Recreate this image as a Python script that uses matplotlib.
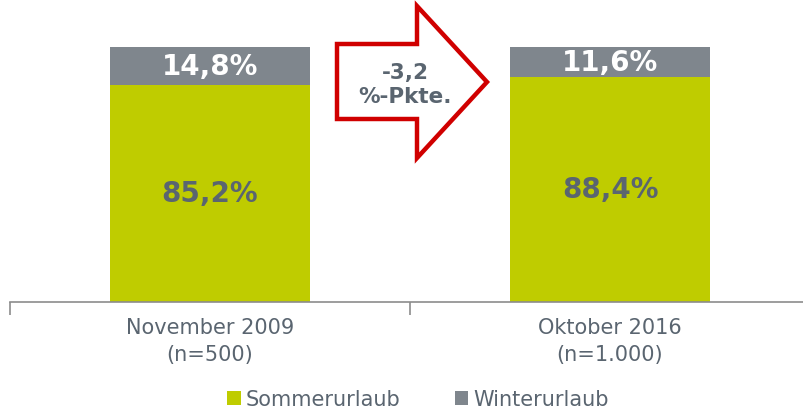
import numpy as np
import matplotlib.pyplot as plt
from matplotlib.patches import Polygon, Patch

categories = ['November 2009\n(n=500)', 'Oktober 2016\n(n=1.000)']
sommer = [85.2, 88.4]
winter = [14.8, 11.6]
series_names = ['Sommerurlaub', 'Winterurlaub']
change_label = '-3,2\n%-Pkte.'

green = '#BFCC00'
grey = '#7F868D'
text_grey = '#5A6570'

W, H = 804, 410
fig = plt.figure(figsize=(W / 100, H / 100), dpi=100)
# axes in pixel terms: x from 10 to 810, y baseline at 303, 100% at 48
ax = fig.add_axes([10 / W, (H - 303) / H, 800 / W, 255 / H])

x = np.arange(len(categories))
ax.bar(x, sommer, width=0.5, color=green)
ax.bar(x, winter, width=0.5, bottom=sommer, color=grey)

def fmt(v):
    return f'{v:.1f}%'.replace('.', ',')

for xi, s, w in zip(x, sommer, winter):
    ax.text(xi, s / 2, fmt(s), ha='center', va='center', fontsize=20,
            fontweight='bold', color=text_grey)
    ax.text(xi, s + w / 2, fmt(w), ha='center', va='center', fontsize=20,
            fontweight='bold', color='white')

ax.set_xlim(-0.5, 1.5)
ax.set_ylim(0, 100)
for side in ['top', 'right', 'left']:
    ax.spines[side].set_visible(False)
ax.spines['bottom'].set_color('#8C8C8C')
ax.spines['bottom'].set_linewidth(1.2)
ax.set_yticks([])
ax.set_xticks(x)
ax.set_xticklabels(categories, fontsize=15, color=text_grey, linespacing=1.42)
ax.tick_params(axis='x', which='major', length=0, pad=11)
ax.set_xticks([-0.5, 0.5, 1.5], minor=True)
ax.tick_params(axis='x', which='minor', length=9, color='#8C8C8C', width=1.2)

# arrow between bars (figure pixel coordinates)
def fp(px, py):
    return (px / W, 1 - py / H)

arrow_pts = [fp(337, 45), fp(417, 45), fp(417, 7), fp(487, 83),
             fp(417, 159), fp(417, 120), fp(337, 120)]
fig.patches.append(Polygon(arrow_pts, closed=True, facecolor='white',
                           edgecolor='#D00000', linewidth=3.2,
                           joinstyle='miter', transform=fig.transFigure))
fig.text(405 / W, 1 - 85 / H, change_label, ha='center', va='center',
         fontsize=15.5, fontweight='bold', color=text_grey, linespacing=1.25)

handles = [Patch(facecolor=green), Patch(facecolor=grey)]
fig.legend(handles, series_names, loc='center', bbox_to_anchor=(418 / W, 10 / H),
           ncol=2, frameon=False, fontsize=15, handlelength=0.65,
           handleheight=0.65, handletextpad=0.25, columnspacing=2.6,
           borderaxespad=0, labelcolor=text_grey)

fig.savefig('out.png', dpi=100)
